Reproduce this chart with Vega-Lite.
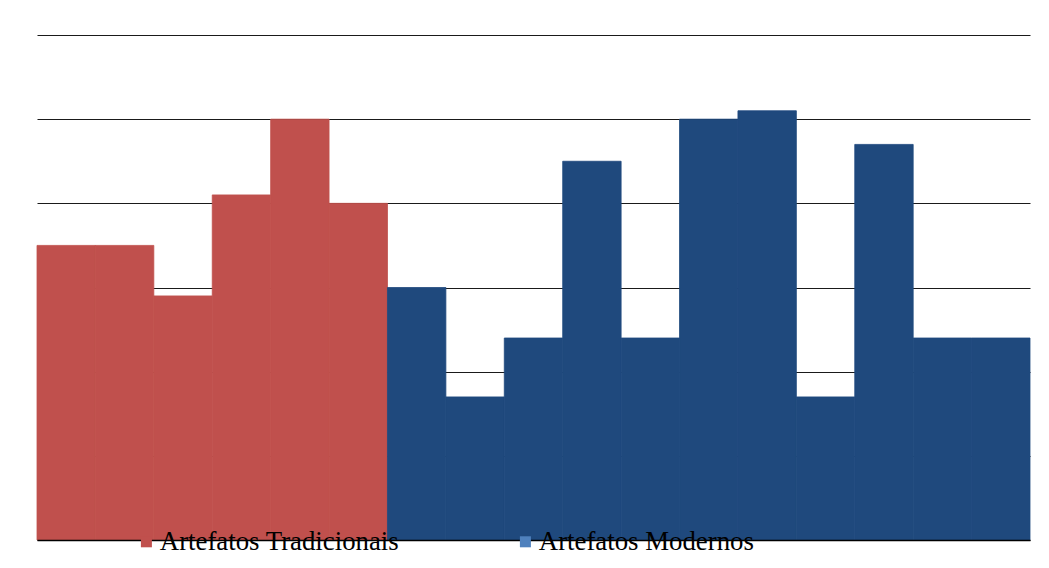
{
  "$schema": "https://vega.github.io/schema/vega-lite/v6.json",
  "width": 993,
  "height": 505,
  "autosize": {"type": "none"},
  "padding": {"left": 37, "top": 35, "right": 19, "bottom": 28},
  "background": "white",
  "config": {"view": {"stroke": null}},
  "data": {
    "values": [
      {"item": 1, "value": 3.5, "tipo": "Artefatos Tradicionais"},
      {"item": 2, "value": 3.5, "tipo": "Artefatos Tradicionais"},
      {"item": 3, "value": 2.9, "tipo": "Artefatos Tradicionais"},
      {"item": 4, "value": 4.1, "tipo": "Artefatos Tradicionais"},
      {"item": 5, "value": 5.0, "tipo": "Artefatos Tradicionais"},
      {"item": 6, "value": 4.0, "tipo": "Artefatos Tradicionais"},
      {"item": 7, "value": 3.0, "tipo": "Artefatos Modernos"},
      {"item": 8, "value": 1.7, "tipo": "Artefatos Modernos"},
      {"item": 9, "value": 2.4, "tipo": "Artefatos Modernos"},
      {"item": 10, "value": 4.5, "tipo": "Artefatos Modernos"},
      {"item": 11, "value": 2.4, "tipo": "Artefatos Modernos"},
      {"item": 12, "value": 5.0, "tipo": "Artefatos Modernos"},
      {"item": 13, "value": 5.1, "tipo": "Artefatos Modernos"},
      {"item": 14, "value": 1.7, "tipo": "Artefatos Modernos"},
      {"item": 15, "value": 4.7, "tipo": "Artefatos Modernos"},
      {"item": 16, "value": 2.4, "tipo": "Artefatos Modernos"},
      {"item": 17, "value": 2.4, "tipo": "Artefatos Modernos"}
    ]
  },
  "encoding": {
    "x": {
      "field": "item",
      "type": "ordinal",
      "scale": {"paddingInner": 0, "paddingOuter": 0},
      "axis": {"title": null, "labels": false, "ticks": false, "domain": true, "domainColor": "#000000", "domainWidth": 1.5, "grid": false, "zindex": 1}
    },
    "y": {
      "field": "value",
      "type": "quantitative",
      "scale": {"domain": [0, 6], "nice": false},
      "axis": {"title": null, "labels": false, "ticks": false, "domain": false, "grid": true, "gridColor": "#1a1a1a", "gridWidth": 1.2, "values": [0, 1, 2, 3, 4, 5, 6]}
    }
  },
  "layer": [
    {
      "mark": {"type": "bar", "opacity": 1, "strokeWidth": 0.8},
      "encoding": {
        "stroke": {
          "field": "tipo",
          "type": "nominal",
          "scale": {"domain": ["Artefatos Tradicionais", "Artefatos Modernos"], "range": ["#C0504D", "#1F497D"]},
          "legend": null
        },
        "color": {
          "field": "tipo",
          "type": "nominal",
          "scale": {"domain": ["Artefatos Tradicionais", "Artefatos Modernos"], "range": ["#C0504D", "#1F497D"]},
          "legend": null
        }
      }
    },
    {
      "mark": {"type": "bar", "opacity": 0},
      "encoding": {
        "color": {
          "field": "tipo",
          "type": "nominal",
          "scale": {"domain": ["Artefatos Tradicionais", "Artefatos Modernos"], "range": ["#C0504D", "#4F81BD"]},
          "legend": {
            "title": null,
            "orient": "none",
            "direction": "horizontal",
            "legendX": 96,
            "legendY": 493,
            "columns": 2,
            "columnPadding": 112,
            "symbolType": "square",
            "symbolSize": 121,
            "symbolStrokeWidth": 0,
            "symbolOpacity": 1,
            "labelFont": "Liberation Serif",
            "labelFontSize": 26.8,
            "labelColor": "#000000",
            "labelOffset": 0,
            "labelLimit": 400,
            "zindex": 2
          }
        }
      }
    }
  ],
  "resolve": {"scale": {"color": "independent", "stroke": "independent"}, "legend": {"color": "independent"}}
}
